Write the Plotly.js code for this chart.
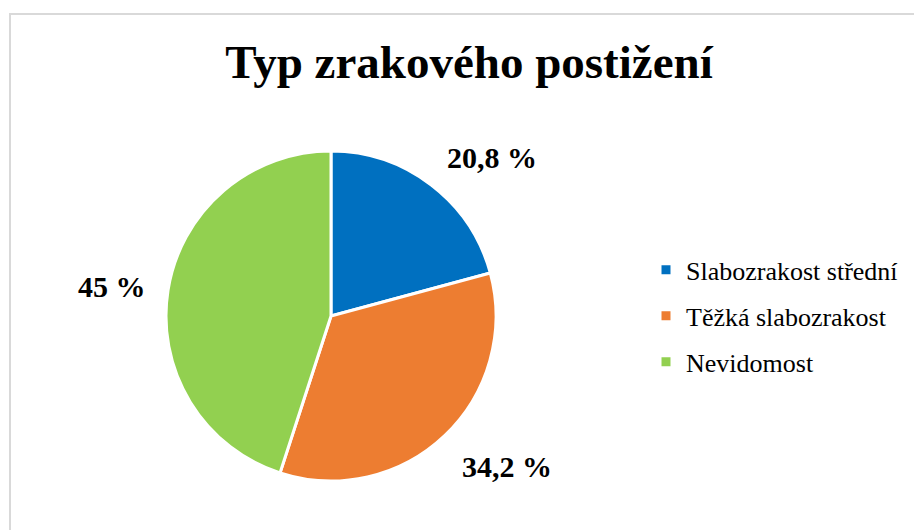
<!DOCTYPE html>
<html>
<head>
<meta charset="utf-8">
<script src="https://cdn.plot.ly/plotly-3.0.1.min.js"></script>
<style>
html,body{margin:0;padding:0;background:#fff;}
#chart{width:914px;height:530px;}
</style>
</head>
<body>
<div id="chart"></div>
<script>
const categories = ["Slabozrakost střední", "Těžká slabozrakost", "Nevidomost"];
const values = [20.8, 34.2, 45];
const colors = ["#0070C0", "#ED7D31", "#92D050"];
const labelTexts = values.map(v => String(v).replace('.', ',') + ' %');

const W = 914, H = 530;
const serif = "'Liberation Serif', 'Times New Roman', Times, serif";

// label anchor positions in pixels (layout only)
const labelPos = [[492, 158], [507, 466], [112, 286]];

const trace = {
  type: 'pie',
  labels: categories,
  values: values,
  sort: false,
  direction: 'clockwise',
  rotation: 0,
  marker: {colors: colors, line: {color: '#ffffff', width: 3}},
  textinfo: 'none',
  hoverinfo: 'label+value',
  domain: {x: [(331 - 165) / W, (331 + 165) / W], y: [1 - 481 / H, 1 - 151 / H]}
};

const annotations = labelTexts.map((t, i) => ({
  text: '<b>' + t + '</b>',
  xref: 'paper', yref: 'paper',
  x: labelPos[i][0] / W, y: 1 - labelPos[i][1] / H,
  xanchor: 'center', yanchor: 'middle',
  showarrow: false,
  font: {family: serif, size: 30, color: '#000'}
}));

const layout = {
  width: W, height: H,
  margin: {l: 0, r: 0, t: 0, b: 0},
  paper_bgcolor: '#ffffff',
  font: {family: serif},
  title: {
    text: '<b>Typ zrakového postižení</b>',
    font: {family: serif, size: 47, color: '#000'},
    x: 469 / W, xanchor: 'center',
    y: 1 - 62 / H, yanchor: 'middle',
    xref: 'paper', yref: 'paper'
  },
  showlegend: true,
  legend: {
    x: 646 / W, xanchor: 'left',
    y: 1 - 316 / H, yanchor: 'middle',
    font: {family: serif, size: 26, color: '#000'},
    bgcolor: 'rgba(0,0,0,0)'
  },
  annotations: annotations,
  shapes: [{
    type: 'rect', xref: 'paper', yref: 'paper',
    x0: 10 / W, x1: 1.05, y0: -0.05, y1: 1 - 14 / H,
    line: {color: '#d9d9d9', width: 2}
  }]
};

function parseT(el) {
  const tr = el.getAttribute('transform') || '';
  const m = tr.match(/translate\(\s*([-\d.e]+)[\s,]+([-\d.e]+)\s*\)/);
  return m ? [parseFloat(m[1]), parseFloat(m[2])] : [0, 0];
}

Plotly.newPlot('chart', [trace], layout, {displayModeBar: false, staticPlot: true}).then(gd => {
  // spread legend rows to match the reference row spacing, keeping the middle row fixed
  const items = Array.from(gd.querySelectorAll('.legend .traces'));
  if (items.length === 3) {
    const gap = 46;
    const pos = items.map(parseT);
    const mid = pos[1][1];
    items.forEach((el, i) => {
      el.setAttribute('transform', 'translate(' + pos[i][0] + ',' + (mid + (i - 1) * gap) + ')');
    });
    gd.querySelectorAll('.legend [clip-path]').forEach(el => el.removeAttribute('clip-path'));
  }
});
</script>
</body>
</html>
